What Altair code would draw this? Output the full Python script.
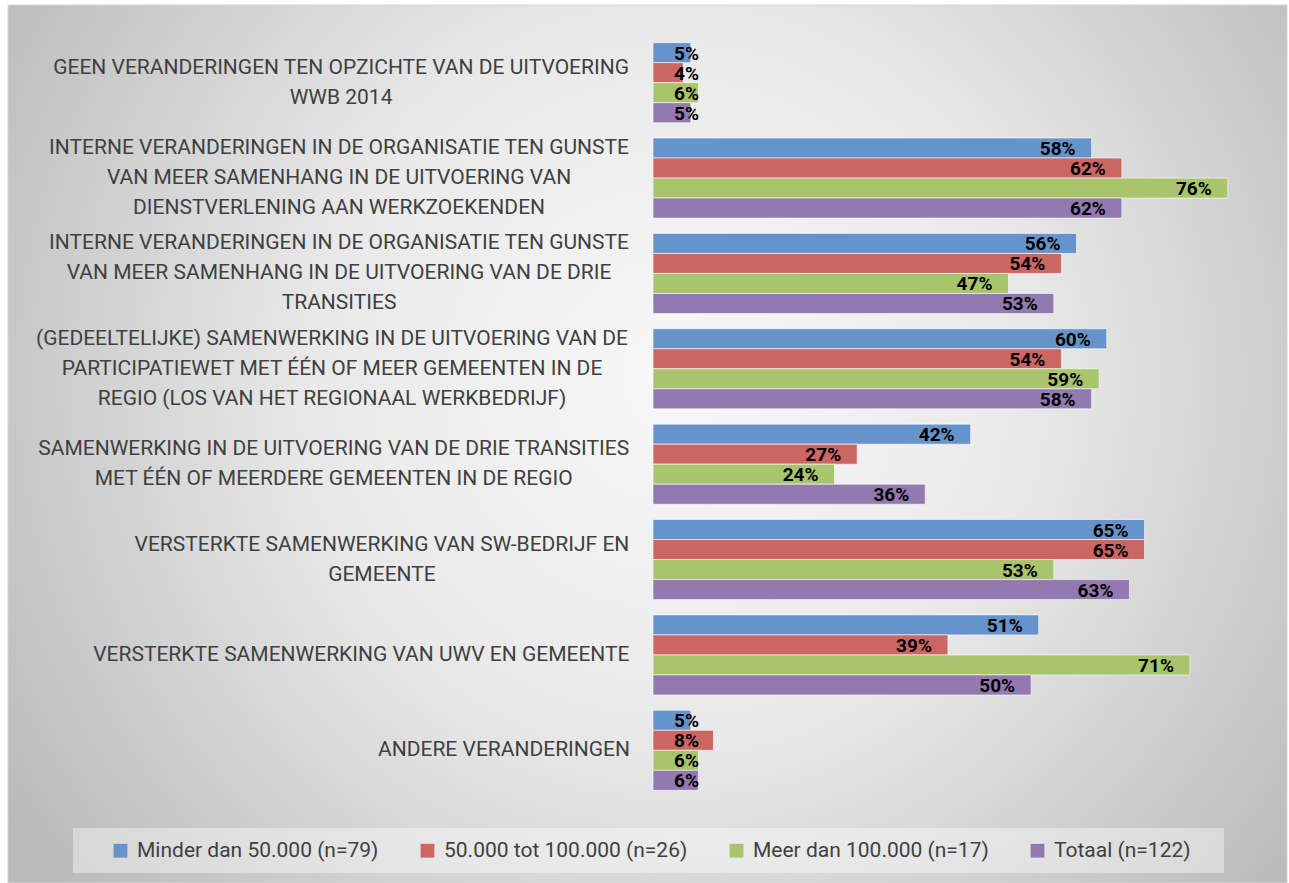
import altair as alt
import pandas as pd

categories = [
    "GEEN VERANDERINGEN TEN OPZICHTE VAN DE UITVOERING\nWWB 2014",
    "INTERNE VERANDERINGEN IN DE ORGANISATIE TEN GUNSTE\nVAN MEER SAMENHANG IN DE UITVOERING VAN\nDIENSTVERLENING AAN WERKZOEKENDEN",
    "INTERNE VERANDERINGEN IN DE ORGANISATIE TEN GUNSTE\nVAN MEER SAMENHANG IN DE UITVOERING VAN DE DRIE\nTRANSITIES",
    "(GEDEELTELIJKE) SAMENWERKING IN DE UITVOERING VAN DE\nPARTICIPATIEWET MET ÉÉN OF MEER GEMEENTEN IN DE\nREGIO (LOS VAN HET REGIONAAL WERKBEDRIJF)",
    "SAMENWERKING IN DE UITVOERING VAN DE DRIE TRANSITIES\nMET ÉÉN OF MEERDERE GEMEENTEN IN DE REGIO",
    "VERSTERKTE SAMENWERKING VAN SW-BEDRIJF EN\nGEMEENTE",
    "VERSTERKTE SAMENWERKING VAN UWV EN GEMEENTE",
    "ANDERE VERANDERINGEN",
]
series = [
    "Minder dan 50.000 (n=79)",
    "50.000 tot 100.000 (n=26)",
    "Meer dan 100.000 (n=17)",
    "Totaal (n=122)",
]
minder_dan_50k = [5, 58, 56, 60, 42, 65, 51, 5]
tussen_50k_100k = [4, 62, 54, 54, 27, 65, 39, 8]
meer_dan_100k = [6, 76, 47, 59, 24, 53, 71, 6]
totaal = [5, 62, 53, 58, 36, 63, 50, 6]
colors = ["#6693C9", "#CB6663", "#A8C46C", "#9279B0"]

rows = []
for s, vals in zip(series, [minder_dan_50k, tussen_50k_100k, meer_dan_100k, totaal]):
    for c, v in zip(categories, vals):
        rows.append({"cat": c, "series": s, "value": v})
df = pd.DataFrame(rows)

# plot geometry
PLOT_W, PLOT_H = 605, 763
XMAX = 80
LABEL_FS = 21
LINE_H = 30
PX_PER_UNIT = PLOT_W / XMAX

# approximate Roboto advance widths (em) to centre multi-line labels
W = {" ": 0.248, "A": 0.652, "B": 0.624, "C": 0.652, "D": 0.656, "E": 0.568, "F": 0.552,
     "G": 0.682, "H": 0.714, "I": 0.272, "J": 0.552, "K": 0.628, "L": 0.539, "M": 0.873,
     "N": 0.714, "O": 0.688, "P": 0.632, "Q": 0.688, "R": 0.616, "S": 0.593, "T": 0.597,
     "U": 0.649, "V": 0.636, "W": 0.887, "X": 0.628, "Y": 0.601, "Z": 0.599, "(": 0.342,
     ")": 0.348, "-": 0.276, "É": 0.568}


def text_w(s):
    return sum(W.get(ch, 0.56) for ch in s) * LABEL_FS


lab_rows = []
for c in categories:
    lines = c.split("\n")
    w = max(text_w(line) for line in lines)
    lab_rows.append({"cat": c, "n": len(lines), "lx": (-23 - w / 2) / PX_PER_UNIT})
labdf = pd.DataFrame(lab_rows)

xscale = alt.Scale(domain=[0, XMAX], nice=False, zero=True)
yscale = alt.Scale(paddingInner=0.16, paddingOuter=0.08)

background = alt.Chart(pd.DataFrame({"a": [0]})).mark_rect(
    fill={
        "gradient": "radial",
        "x1": 0.52, "y1": 0.45, "r1": 0.0,
        "x2": 0.52, "y2": 0.45, "r2": 0.62,
        "stops": [
            {"offset": 0, "color": "#f8f8f8"},
            {"offset": 0.45, "color": "#e9e9e9"},
            {"offset": 1, "color": "#bababa"},
        ],
    },
    stroke="#d4d4d4",
    strokeWidth=1,
).encode(
    x=alt.value(-645), x2=alt.value(634), y=alt.value(-30), y2=alt.value(848)
)

legend_box = alt.Chart(pd.DataFrame({"a": [0]})).mark_rect(
    fill="white", fillOpacity=0.4
).encode(
    x=alt.value(73 - 653), x2=alt.value(1224 - 653), y=alt.value(828 - 35), y2=alt.value(873 - 35)
)

bars = alt.Chart(df).mark_bar(stroke="white", strokeWidth=1, strokeOpacity=0.6).encode(
    x=alt.X(
        "value:Q",
        scale=xscale,
        axis=alt.Axis(
            values=list(range(0, XMAX + 1, 10)),
            grid=True,
            gridColor="#a8a8a8",
            gridOpacity=0.8,
            gridWidth=1,
            labels=False,
            ticks=False,
            domain=False,
            title=None,
        ),
    ),
    y=alt.Y(
        "cat:N",
        sort=categories,
        scale=yscale,
        axis=alt.Axis(
            labels=False, ticks=False, grid=False, title=None,
            domainColor="#404040", domainWidth=3.5,
        ),
    ),
    yOffset=alt.YOffset("series:N", sort=series, scale=alt.Scale(paddingInner=0, paddingOuter=0)),
    color=alt.Color(
        "series:N",
        sort=series,
        scale=alt.Scale(domain=series, range=colors),
        legend=alt.Legend(
            title=None,
            orient="none",
            legendX=110 - 653,
            legendY=840 - 35,
            direction="horizontal",
            symbolType="square",
            symbolSize=190,
            symbolStrokeWidth=0,
            labelFont="Roboto",
            labelFontSize=21,
            labelColor="#404040",
            labelOffset=6,
            labelLimit=0,
            columnPadding=38,
            padding=0,
        ),
    ),
)

values = alt.Chart(df).transform_calculate(
    lpos="max(datum.value, 8.2)",
    lbl="datum.value + '%'",
).mark_text(
    align="right", baseline="middle", dx=-16, dy=1,
    font="Roboto", fontSize=19, fontWeight="bold", color="black",
).encode(
    x=alt.X("lpos:Q", scale=xscale),
    y=alt.Y("cat:N", sort=categories, scale=yscale),
    yOffset=alt.YOffset("series:N", sort=series),
    text="lbl:N",
)

label_layers = []
for n in sorted(labdf["n"].unique()):
    label_layers.append(
        alt.Chart(labdf[labdf["n"] == n]).mark_text(
            align="center", baseline="middle", lineBreak="\n", lineHeight=LINE_H,
            dy=-(int(n) - 1) * LINE_H / 2,
            font="Roboto", fontSize=LABEL_FS, color="#404040",
        ).encode(
            x=alt.X("lx:Q", scale=xscale),
            y=alt.Y("cat:N", sort=categories, scale=yscale),
            text="cat:N",
        )
    )

chart = alt.layer(background, legend_box, bars, values, *label_layers).properties(
    width=PLOT_W,
    height=PLOT_H,
    autosize=alt.AutoSizeParams(type="none"),
    padding={"left": 653, "top": 35, "right": 31, "bottom": 85},
    background="white",
).configure_view(stroke=None)

chart.save("out.html", embed_options={"renderer": "svg", "actions": False})
